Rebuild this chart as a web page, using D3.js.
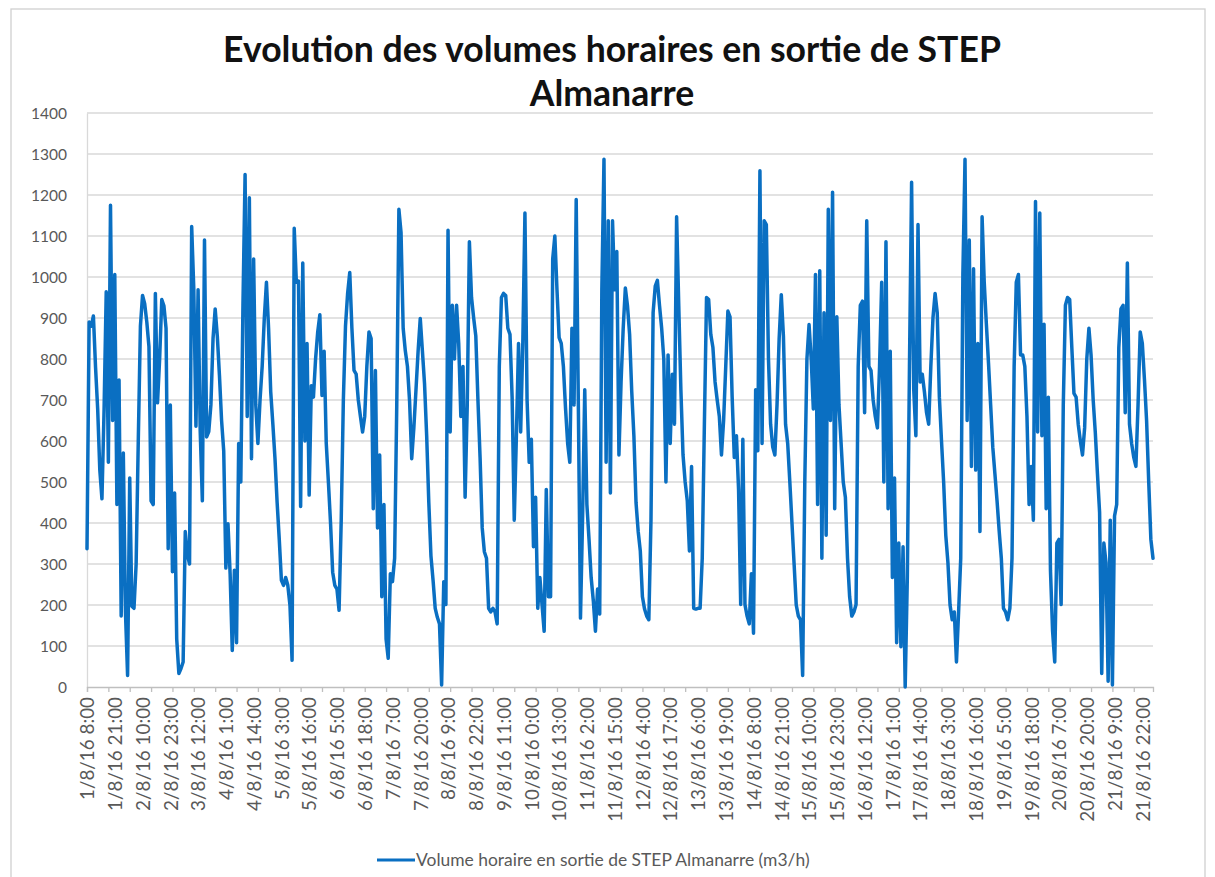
<!DOCTYPE html>
<html>
<head>
<meta charset="utf-8">
<script src="https://cdn.jsdelivr.net/npm/d3@7/dist/d3.min.js"></script>
<style>
  html, body { margin: 0; padding: 0; background: #fff; }
  svg { display: block; }
</style>
</head>
<body>
<div id="chart"></div>
<script>
// hourly volumes, 1/8/16 8:00 onwards (m3/h)
var volumes = [
  337, 890, 880, 905, 780, 678, 529, 459, 678, 964,
  548, 1175, 650, 1006, 445, 749, 173, 571, 183, 28,
  510, 197, 192, 300, 600, 880, 955, 935, 890, 830,
  454, 445, 960, 693, 800, 945, 930, 875, 337, 688,
  281, 473, 117, 33, 45, 61, 379, 323, 300, 1123,
  969, 636, 969, 623, 454, 1090, 610, 623, 688, 850,
  922, 856, 760, 650, 576, 290, 398, 276, 89, 285,
  108, 594, 500, 931, 1250, 660, 1193, 557, 1044, 688,
  594, 700, 782, 900, 987, 875, 720, 641, 557, 450,
  360, 260, 248, 267, 248, 200, 65, 1119, 987, 990,
  440, 1034, 600, 838, 468, 735, 707, 800, 866, 908,
  711, 819, 594, 500, 400, 280, 248, 239, 187, 407,
  700, 880, 960, 1011, 875, 772, 763, 700, 660, 622,
  660, 782, 866, 850, 435, 772, 388, 566, 220, 445,
  117, 70, 276, 257, 314, 688, 1165, 1109, 875, 820,
  782, 697, 557, 632, 725, 820, 899, 820, 740, 613,
  450, 320, 260, 192, 170, 154, 5, 257, 201, 1114,
  622, 931, 800, 931, 838, 660, 782, 463, 688, 1086,
  950, 900, 856, 700, 560, 388, 330, 314, 192, 183,
  192, 183, 154, 782, 950, 960, 955, 875, 860, 707,
  407, 613, 838, 622, 838, 1156, 700, 548, 604, 342,
  463, 192, 267, 201, 136, 482, 220, 220, 1044, 1100,
  969, 852, 838, 782, 680, 594, 548, 875, 688, 1189,
  688, 168, 417, 725, 445, 360, 267, 211, 136, 239,
  178, 969, 1287, 548, 1137, 473, 1137, 969, 1062, 566,
  744, 875, 973, 930, 860, 720, 613, 450, 380, 332,
  220, 190, 173, 164, 407, 913, 978, 992, 930, 875,
  800, 500, 810, 594, 763, 641, 1147, 931, 725, 566,
  500, 454, 332, 538, 192, 190, 192, 192, 314, 641,
  950, 945, 860, 828, 744, 700, 660, 566, 650, 782,
  917, 903, 707, 560, 613, 482, 201, 604, 201, 173,
  154, 276, 131, 725, 576, 1259, 594, 1137, 1128, 800,
  641, 585, 566, 688, 850, 957, 856, 641, 594, 500,
  400, 300, 200, 173, 164, 28, 500, 800, 884, 800,
  678, 1006, 445, 1015, 314, 913, 370, 1165, 650, 1207,
  435, 903, 688, 594, 500, 463, 314, 220, 173, 183,
  201, 782, 931, 941, 669, 1137, 782, 772, 700, 660,
  632, 782, 987, 500, 1086, 435, 819, 267, 510, 108,
  351, 98, 342, 0, 267, 782, 1231, 725, 613, 1128,
  744, 763, 720, 669, 641, 782, 900, 960, 913, 707,
  600, 500, 370, 304, 200, 164, 183, 61, 183, 314,
  1006, 1287, 650, 1090, 538, 1020, 529, 838, 379, 1147,
  987, 885, 790, 688, 585, 520, 454, 380, 314, 192,
  183, 164, 192, 314, 782, 987, 1006, 810, 810, 782,
  660, 445, 538, 407, 1184, 622, 1156, 613, 885, 435,
  707, 285, 136, 61, 351, 360, 201, 688, 931, 950,
  945, 828, 716, 707, 641, 600, 566, 632, 800, 875,
  810, 700, 620, 520, 426, 33, 351, 304, 14, 407,
  5, 417, 445, 828, 922, 931, 669, 1034, 641, 594,
  560, 538, 688, 866, 838, 750, 650, 500, 360, 314
];

// one label every 13 hours
var hourLabels = [
  "1/8/16 8:00", "1/8/16 21:00", "2/8/16 10:00", "2/8/16 23:00", "3/8/16 12:00",
  "4/8/16 1:00", "4/8/16 14:00", "5/8/16 3:00", "5/8/16 16:00", "6/8/16 5:00",
  "6/8/16 18:00", "7/8/16 7:00", "7/8/16 20:00", "8/8/16 9:00", "8/8/16 22:00",
  "9/8/16 11:00", "10/8/16 0:00", "10/8/16 13:00", "11/8/16 2:00", "11/8/16 15:00",
  "12/8/16 4:00", "12/8/16 17:00", "13/8/16 6:00", "13/8/16 19:00", "14/8/16 8:00",
  "14/8/16 21:00", "15/8/16 10:00", "15/8/16 23:00", "16/8/16 12:00", "17/8/16 1:00",
  "17/8/16 14:00", "18/8/16 3:00", "18/8/16 16:00", "19/8/16 5:00", "19/8/16 18:00",
  "20/8/16 7:00", "20/8/16 20:00", "21/8/16 9:00", "21/8/16 22:00"
];
var labelStep = 13;
var tickStep = 10;

var yTicks = [0, 100, 200, 300, 400, 500, 600, 700, 800, 900, 1000, 1100, 1200, 1300, 1400];

var titleLines = ["Evolution des volumes horaires en sortie de STEP", "Almanarre"];
var seriesName = "Volume horaire en sortie de STEP Almanarre (m3/h)";

var W = 1215, H = 877;
var margin = {top: 113, right: 62, bottom: 190, left: 87};
var FONT = "Lato, 'Open Sans', sans-serif";
var BLUE = "#0a6fc2";

var svg = d3.select("#chart").append("svg")
    .attr("width", W)
    .attr("height", H);

// chart area border
svg.append("rect")
    .attr("x", 11).attr("y", 9)
    .attr("width", 1194).attr("height", 900)
    .attr("fill", "none")
    .attr("stroke", "#d0d0d0")
    .attr("stroke-width", 1.3);

var x = d3.scaleLinear()
    .domain([0, volumes.length - 1])
    .range([margin.left, W - margin.right]);

var y = d3.scaleLinear()
    .domain([0, 1400])
    .range([H - margin.bottom, margin.top]);

// shrink/grow a text to a target width
function fitWidth(sel, target) {
    var len = sel.node().getComputedTextLength();
    var fs = parseFloat(sel.attr("font-size"));
    var nfs = fs * target / len;
    sel.attr("font-size", nfs);
    return nfs;
}

// gridlines
svg.append("g")
    .attr("class", "grid")
    .selectAll("line")
    .data(yTicks.slice(1))
    .enter().append("line")
    .attr("x1", x.range()[0]).attr("x2", x.range()[1])
    .attr("y1", function(d) { return y(d); })
    .attr("y2", function(d) { return y(d); })
    .attr("stroke", "#d9d9d9")
    .attr("stroke-width", 1.3);

// y axis
var yAxis = svg.append("g")
    .attr("transform", "translate(" + margin.left + ",0)")
    .call(d3.axisLeft(y).tickValues(yTicks).tickSize(0).tickPadding(20)
        .tickFormat(d3.format("d")));
yAxis.select(".domain").attr("stroke", "#d9d9d9").attr("stroke-width", 1.3);
yAxis.selectAll("text")
    .attr("font-family", FONT)
    .attr("font-size", 16)
    .attr("fill", "#595959");
var yfs = fitWidth(yAxis.selectAll("text").filter(function(d) { return d === 1400; }), 36);
yAxis.selectAll("text").attr("font-size", yfs).attr("dy", "0.36em");

// x axis: tick marks every 10 hours
var xTickAxis = svg.append("g")
    .attr("transform", "translate(0," + y(0) + ")")
    .call(d3.axisBottom(x)
        .tickValues(d3.range(0, volumes.length, tickStep))
        .tickSize(5)
        .tickFormat(""));
xTickAxis.select(".domain").attr("stroke", "#bfbfbf").attr("stroke-width", 1.3);
xTickAxis.selectAll(".tick line").attr("stroke", "#bfbfbf").attr("stroke-width", 1.3);

// x labels every 13 hours
var xLabelAxis = svg.append("g")
    .attr("transform", "translate(0," + y(0) + ")")
    .call(d3.axisBottom(x)
        .tickValues(hourLabels.map(function(d, i) { return i * labelStep; }))
        .tickSize(0)
        .tickFormat(function(d) { return hourLabels[d / labelStep]; }));
xLabelAxis.select(".domain").remove();
var xl = xLabelAxis.selectAll("text")
    .attr("font-family", FONT)
    .attr("font-size", 16)
    .attr("fill", "#595959")
    .attr("text-anchor", "end")
    .attr("transform", "rotate(-90)")
    .attr("x", -10)
    .attr("y", 0)
    .attr("dy", "0.36em");
var xfs = fitWidth(xl.filter(function(d) { return d === labelStep; }), 114);
xl.attr("font-size", xfs);

// the series
var line = d3.line()
    .x(function(d, i) { return x(i); })
    .y(function(d) { return y(d); });

svg.append("path")
    .datum(volumes)
    .attr("d", line)
    .attr("fill", "none")
    .attr("stroke", BLUE)
    .attr("stroke-width", 3.5)
    .attr("stroke-linejoin", "round")
    .attr("stroke-linecap", "round");

// title
var title = svg.append("text")
    .attr("text-anchor", "middle")
    .attr("font-family", FONT)
    .attr("font-weight", "bold")
    .attr("font-size", 30)
    .attr("fill", "#111");
title.selectAll("tspan")
    .data(titleLines)
    .enter().append("tspan")
    .attr("x", 612)
    .attr("y", function(d, i) { return 62 + i * 44; })
    .text(function(d) { return d; });
var t1 = title.select("tspan").node().getComputedTextLength();
title.attr("font-size", 30 * 778 / t1);

// legend
var legend = svg.append("g");
legend.append("line")
    .attr("x1", 377).attr("x2", 415)
    .attr("y1", 860).attr("y2", 860)
    .attr("stroke", BLUE)
    .attr("stroke-width", 3);
var legText = legend.append("text")
    .attr("x", 416)
    .attr("y", 860)
    .attr("dy", "0.35em")
    .attr("font-family", FONT)
    .attr("font-size", 16)
    .attr("fill", "#595959")
    .text(seriesName);
fitWidth(legText, 394);
</script>
</body>
</html>
